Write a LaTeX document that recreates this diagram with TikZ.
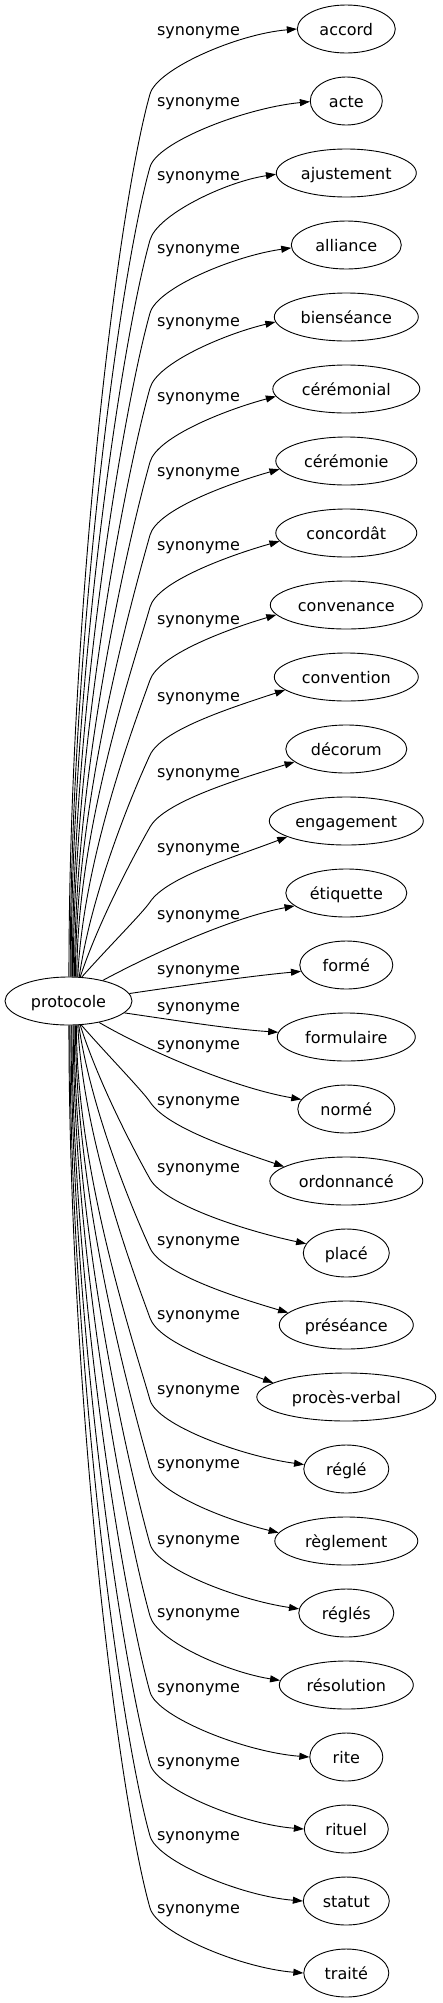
\documentclass[tikz,border=0pt]{standalone}
\usepackage{fontspec}
\setmainfont{DejaVu Sans}
\usetikzlibrary{arrows.meta,shapes.geometric}
\begin{document}
\begin{tikzpicture}[x=1pt,y=-1pt,
  tgt/.style={draw, ellipse, line width=0.9pt, minimum height=48pt, inner sep=0pt,
              text height=12pt, text depth=0pt, font=\fontsize{16}{19}\selectfont},
  lab/.style={inner sep=0pt, anchor=base, font=\fontsize{16}{19}\selectfont},
  syn/.style={line width=0.9pt, -{Triangle[length=10pt,width=7pt]}}]
\fill[white] (0,0) rectangle (442,2003);
\useasboundingbox (0,0) rectangle (442,2003);

\node[tgt, minimum width=127pt] (proto) at (68.5,1001) {protocole};

\foreach \i/\txt/\vw/\vL in {0/accord/98/31, 1/acte/72/102, 2/ajustement/140/176,
  3/alliance/110/249, 4/bienséance/144/322, 5/cérémonial/147/397,
  6/cérémonie/141/472, 7/concordât/141/546, 8/convenance/152/620,
  9/convention/144/697, 10/décorum/121/773, 11/engagement/154/848,
  12/étiquette/121/915, 13/formé/93/970, 14/formulaire/138/1007,
  15/normé/97/1045, 16/ordonnancé/153/1101, 17/placé/86/1168,
  18/préséance/134/1241, 19/procès-verbal/179/1315, 20/réglé/85/1390,
  21/règlement/143/1464, 22/réglés/95/1540, 23/résolution/134/1613,
  24/rite/73/1688, 25/rituel/84/1762, 26/statut/86/1836, 27/traité/85/1909}{
  \node[tgt, minimum width=\vw pt] (n\i) at (346.3,{29+72*\i}) {\txt};
  \node[lab] (l\i) at (198.5,{\vL+4.5}) {synonyme};
}

% upper edges
\foreach \i/\vw/\vo in {0/98/0, 1/72/1, 2/140/2, 3/110/3, 4/144/6, 5/147/8,
  6/141/9, 7/141/9, 8/152/10, 9/144/13, 10/121/13, 11/154/16}{
  \pgfmathsetmacro\rr{\vw/2}
  \pgfmathsetmacro\cc{sqrt(1-(\vo/24)^2)}
  \pgfmathsetmacro\tx{346.3-\rr*\cc}
  \pgfmathsetmacro\ty{29+72*\i+\vo}
  \pgfmathsetmacro\ta{180+atan2(\vo,\rr*\cc)}
  \pgfmathsetmacro\sa{89-2.5*\i}
  \pgfmathsetmacro\st{1/sqrt((cos(\sa)/63.5)^2+(sin(\sa)/24)^2)}
  \pgfmathsetmacro\sx{68.5+\st*cos(\sa)}
  \pgfmathsetmacro\sy{1001-\st*sin(\sa)}
  \pgfmathsetmacro\hy{\ty+65}
  \pgfmathsetmacro\dd{\sy-\hy}
  \pgfmathsetmacro\kk{0.5*max(0,1-\dd/350)}
  \pgfmathsetmacro\aa{0.28+2*\kk*0.5}
  \pgfmathsetmacro\qx{150+0.59*(\tx-150)}
  \draw[syn] (proto.\sa) .. controls ({\sx+\kk*(150-\sx)},{\sy-0.4*\dd}) and ({150-0.14*\dd*\aa},{\hy+0.14*\dd}) .. (150,\hy)
     .. controls ({150+25*\aa},{\hy-25}) and ({\qx},{\ty+5+\vo}) .. (n\i.\ta);
}

% middle edges
\draw[syn] (proto.31) .. controls (150,955) and (230,918) .. (n12.194.34);
\draw[syn] (proto.7) .. controls (180,986) and (250,976) .. (n13.188.94);
\draw[syn] (proto.348) .. controls (180,1021) and (230,1029) .. (n14.176.64);
\draw[syn] (proto.325) .. controls (150,1052) and (235,1088) .. (n15.168.68);

% lower edges
\foreach \i/\vw/\vo in {16/153/-14, 17/86/-9, 18/134/-12, 19/179/-14, 20/85/-4,
  21/143/-8, 22/95/-4, 23/134/-4, 24/73/0, 25/84/0, 26/86/0, 27/85/0}{
  \pgfmathsetmacro\rr{\vw/2}
  \pgfmathsetmacro\cc{sqrt(1-(\vo/24)^2)}
  \pgfmathsetmacro\tx{346.3-\rr*\cc}
  \pgfmathsetmacro\ty{29+72*\i+\vo}
  \pgfmathsetmacro\ta{180+atan2(\vo,\rr*\cc)}
  \pgfmathsetmacro\sa{271+2.5*(27-\i)}
  \pgfmathsetmacro\st{1/sqrt((cos(\sa)/63.5)^2+(sin(\sa)/24)^2)}
  \pgfmathsetmacro\sx{68.5+\st*cos(\sa)}
  \pgfmathsetmacro\sy{1001-\st*sin(\sa)}
  \pgfmathsetmacro\hy{\ty-65}
  \pgfmathsetmacro\dd{\hy-\sy}
  \pgfmathsetmacro\kk{0.5*max(0,1-\dd/350)}
  \pgfmathsetmacro\aa{0.28+2*\kk*0.5}
  \pgfmathsetmacro\qx{150+0.59*(\tx-150)}
  \draw[syn] (proto.\sa) .. controls ({\sx+\kk*(150-\sx)},{\sy+0.4*\dd}) and ({150-0.14*\dd*\aa},{\hy-0.14*\dd}) .. (150,\hy)
     .. controls ({150+25*\aa},{\hy+25}) and ({\qx},{\ty-5+\vo}) .. (n\i.\ta);
}
\end{tikzpicture}
\end{document}
